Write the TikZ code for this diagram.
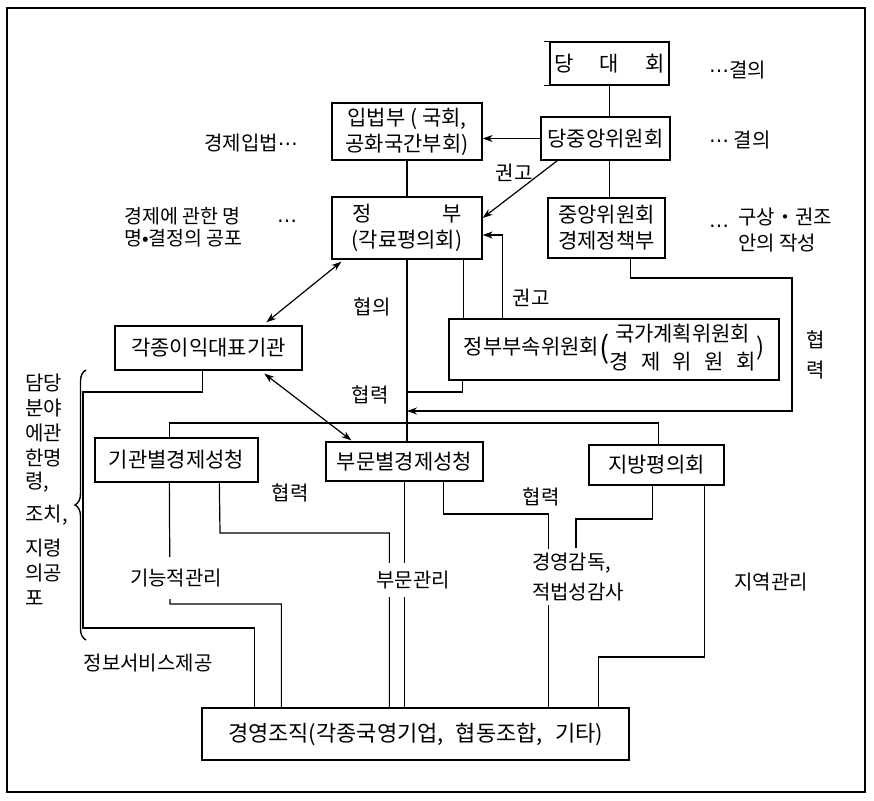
\documentclass[tikz,border=0pt]{standalone}
\usepackage{fontspec}
\newfontfamily\kr{Noto Sans CJK KR}
\newfontfamily\dv{DejaVu Sans}
\usetikzlibrary{arrows.meta,decorations.pathreplacing,calc}
\begin{document}
\begin{tikzpicture}[x=1pt,y=-1pt,
  box/.style={draw, line width=1.3pt, inner sep=0pt, align=center, font=\kr\fontsize{21}{26}\selectfont},
  lab/.style={inner sep=0pt, font=\kr\fontsize{20}{26}\selectfont},
  gap/.style={lab, fill=white, inner xsep=2pt},
  ln/.style={line width=1.2pt},
  arr/.style={ln, -{Stealth[length=10pt,width=7pt]}},
  dbl/.style={ln, {Stealth[length=10pt,width=7pt]}-{Stealth[length=10pt,width=7pt]}}]
\useasboundingbox (0,0) rectangle (874,800);
\draw[line width=1.3pt] (7,8) rectangle (865,792);

% boxes
\node[box, minimum width=119pt, minimum height=43pt] (dd) at (609.5,63.5) {당\hspace{26pt}대\hspace{26pt}회};
\draw[ln] (dd.north west) -- ++(-5,0);
\draw[ln] (dd.south west) -- ++(-5,0);
\node[box, minimum width=129pt, minimum height=43pt] (dj) at (605.5,138.5) {당중앙위원회};
\node[box, minimum width=150pt, minimum height=57pt] (jb) at (407,131.5) {입법부 ( 국회,\\공화국간부회)};
\node[box, minimum width=150pt, minimum height=62pt] (gov) at (407,228) {정\hspace{70pt}부\\(각료평의회)};
\node[box, minimum width=117pt, minimum height=60pt] (ep) at (606.5,228) {중앙위원회\\경제정책부};
\node[box, minimum width=187pt, minimum height=44pt] (gk) at (208.5,348) {각종이익대표기관};
\node[box, minimum width=330pt, minimum height=61pt] (pb) at (614,349.5) {정부부속위원회\raisebox{-4pt}{\fontsize{30}{30}\selectfont (}{\def\arraystretch{1.08}\begin{tabular}{@{}c@{}}국가계획위원회\\\makebox[7em][s]{경\hfill 제\hfill 위\hfill 원\hfill 회}\end{tabular}}\raisebox{-1pt}{\fontsize{24}{24}\selectfont )}};
\node[box, minimum width=163pt, minimum height=44pt] (gi) at (176.5,460) {기관별경제성청};
\node[box, minimum width=157pt, minimum height=39pt] (bm) at (404.5,461.5) {부문별경제성청};
\node[box, minimum width=135pt, minimum height=40pt] (jbg) at (656.5,465) {지방평의회};
\node[box, minimum width=427pt, minimum height=52pt, font=\kr\fontsize{22}{26}\selectfont] (gy) at (415.5,734) {경영조직(각종국영기업,\hspace{12pt}협동조합,\hspace{12pt}기타)};

% upper connectors
\draw[ln] (dd.south) -- (dd.south |- dj.north);
\draw[arr] (dj.west) -- (dj.west -| jb.east);
\draw[arr] ([xshift=17pt]dj.south west) -- ([yshift=10pt]gov.east);
\draw[ln] (jb.south) -- (gov.north);
\draw[ln] (dj.south -| dd.south) -- (ep.north -| dd.south);
\coordinate (r1) at (792,278);
\coordinate (r2) at (792,411);
\draw[arr] ([xshift=83pt]ep.south west) |- (r1) -- (r2) -- (gov.south |- r2);
\draw[arr] ([xshift=54pt]pb.north west) |- ([yshift=-7pt]gov.east);
\coordinate (g1) at ([xshift=-19pt]gov.south east);
\draw[ln] (g1) -- (g1 |- pb.north);
\coordinate (p1) at ([xshift=14pt]pb.south west);
\coordinate (y392) at (0,392);
\draw[ln] (p1) |- (gov.south |- y392);
\draw[ln] (gov.south) -- (gov.south |- bm.north);
\coordinate (b1) at ([xshift=75pt]gi.north west);
\coordinate (b2) at ([xshift=70pt]jbg.north west);
\coordinate (y423) at (0,423);
\draw[ln] (b1) -- (b1 |- y423) -- (b2 |- y423) -- (b2);
\draw[dbl] ([xshift=152pt,yshift=3pt]gk.north west) -- ([xshift=10pt,yshift=-2pt]gov.south west);
\draw[dbl] ([xshift=150pt,yshift=-3pt]gk.south west) -- ([xshift=26pt,yshift=1pt]bm.north west);

% left information line and brace
\coordinate (s1) at ([xshift=88pt]gk.south west);
\coordinate (s2) at (83,392);
\coordinate (s3) at (83,628);
\coordinate (s4) at ([xshift=53pt]gy.north west);
\draw[ln] (s1) |- (s2) -- (s3) -| (s4);
\draw[line width=1.4pt, decorate, decoration={brace, amplitude=11pt}] (86,640) -- (86,370);

% lower connectors
\coordinate (k1) at ([xshift=75pt]gi.south west);
\coordinate (k1b) at (170,604);
\coordinate (k1c) at ([xshift=80pt]gy.north west);
\draw[ln] (k1) -- (k1b) -| (k1c);
\coordinate (k2) at ([xshift=125pt]gi.south west);
\coordinate (k2b) at (220,533);
\coordinate (k2c) at ([xshift=188pt]gy.north west);
\draw[ln] (k2) -- (k2b) -| (k2c);
\draw[ln] (bm.south) -- (bm.south |- gy.north);
\coordinate (m2) at ([xshift=118pt]bm.south west);
\coordinate (y514) at (0,514);
\coordinate (m2c) at ([xshift=347pt]gy.north west);
\draw[ln] (m2) -- (m2 |- y514) -| (m2c);
\coordinate (j1) at ([xshift=64pt]jbg.south west);
\coordinate (y519) at (0,519);
\coordinate (j1c) at (576,548);
\draw[ln] (j1) -- (j1 |- y519) -| (j1c);
\coordinate (j2) at ([xshift=116pt]jbg.south west);
\coordinate (y657) at (0,657);
\coordinate (j2c) at ([xshift=397pt]gy.north west);
\draw[ln] (j2) -- (j2 |- y657) -| (j2c);

% labels on lines
\node[gap, inner ysep=12pt] (lk) at (176,578) {기능적관리};
\node[gap, inner ysep=8pt] (lb) at (413,580) {부문관리};
\node[gap, inner ysep=4pt, align=left, font=\kr\fontsize{20}{30}\selectfont] (lgy) at (578,577) {경영감독,\\적법성감사};
\node[lab] (lj) at (771,582) {지역관리};
\node[lab] (li) at (148,663) {정보서비스제공};
\node[lab] (h1) at (290,493) {협력};
\node[lab] (h2) at (541,497) {협력};
\node[lab] (h3) at (372,307) {협의};
\node[lab] (h4) at (370,395) {협력};
\node[lab] (k3) at (514,173) {권고};
\node[lab] (k4) at (531,298) {권고};
\node[lab, align=center, font=\kr\fontsize{20}{30}\selectfont] (h5) at (816,355) {협\\력};

% side texts
\node[lab, anchor=west] (t1) at (709,70) {{\dv ⋯}결의};
\node[lab, anchor=west] (t2) at (709,140) {{\dv ⋯} 결의};
\node[lab] (t3) at (719,229) {\dv ⋯};
\node[lab, anchor=west, align=left] (t4) at (738,230) {구상・권조\\안의 작성};
\node[lab, anchor=east] (t5) at (298,143) {경제입법{\dv ⋯}};
\node[lab, anchor=west, align=left, font=\kr\fontsize{19.5}{22}\selectfont] (t6) at (124,227) {경제에 관한 명\\명•결정의 공포};
\node[lab] (t7) at (287,224) {\dv ⋯};
\foreach \t/\yy [count=\i] in {담당/383, 분야/408, 에관/433, 한명/458, {령,}/482, {조치,}/515, 지령/548, 의공/573, 포/598}
  \node[lab, anchor=west, font=\kr\fontsize{20}{26}\selectfont] (v\i) at (25,\yy) {\t};
\end{tikzpicture}
\end{document}
